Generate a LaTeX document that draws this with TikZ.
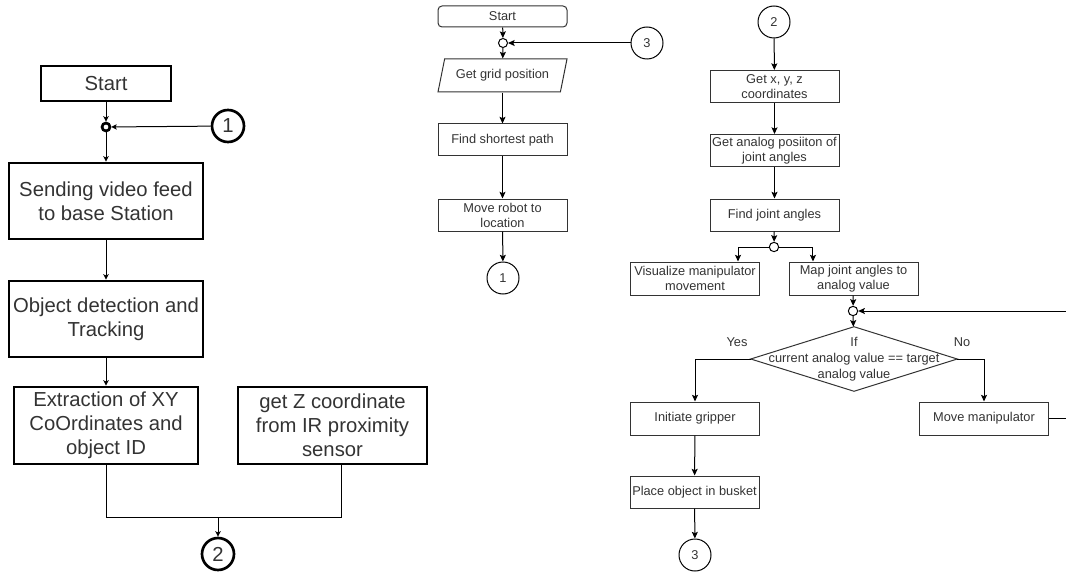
\documentclass[tikz,border=0pt]{standalone}
\usepackage{fontspec}
\setmainfont{Liberation Sans}
\usepackage{tikz}
\usetikzlibrary{arrows}
\usetikzlibrary{arrows.meta}
\usetikzlibrary{shapes}

\begin{document}
\begin{tikzpicture}[>={Stealth[length=5pt, width=4.5pt, inset=1pt]}, x=0.75pt, y=-0.75pt]
    \tikzstyle{bigbox} = [draw, line width=2pt, rectangle, align=center,
	inner sep=1pt, text=black!80, font=\fontsize{15.2}{18}\selectfont]
    \tikzstyle{smallbox} = [draw=black!80, line width=0.75pt, rectangle,
	align=center, inner sep=1pt, minimum width=96.75pt, minimum height=24pt,
	text=black!80, font=\fontsize{9.6}{11.25}\selectfont]
    \tikzstyle{bigcon} = [draw, line width=2pt, circle, minimum size=24pt,
	inner sep=0pt, text=black!80, font=\fontsize{15.2}{18}\selectfont]
    \tikzstyle{smallcon} = [draw, line width=0.75pt, circle, minimum size=24pt,
	inner sep=0pt, text=black!80, font=\fontsize{9.6}{11.25}\selectfont]
    \tikzstyle{dot} = [draw, circle, fill=white, inner sep=0pt]
    \tikzstyle{link} = [line width=0.75pt]
    \tikzstyle{answer} = [text=black!80, font=\fontsize{9.6}{11.25}\selectfont]

    \useasboundingbox (0,0) rectangle (1066,574);

	% video side
	\begin{scope}[>={Stealth[length=4pt, width=4pt, inset=0.8pt]}]
		\node[bigbox, minimum width=97.5pt, minimum height=26.25pt] (start) at (106,83.5) {Start};
		\node[dot, line width=2pt, minimum size=6pt] (j1) at (106,127) {};
		\node[bigcon] (one) at (228,126) {1};
		\node[bigbox, minimum width=145.5pt, minimum height=57pt] (send) at (106,201)
			{Sending video feed\\to base Station};
		\node[bigbox, minimum width=145.5pt, minimum height=57pt] (objdet) at (106,319)
			{Object detection and\\Tracking};
		\node[bigbox, minimum width=138pt, minimum height=57.75pt] (extract) at (106,425.5)
			{Extraction of XY\\CoOrdinates and\\object ID};
		\node[bigbox, minimum width=141.75pt, minimum height=57.75pt] (getz) at (332.5,425.5)
			{get Z coordinate\\from IR proximity\\sensor};
		\node[bigcon] (two) at (218,554) {2};
		\coordinate (merge) at (218,517);
		\coordinate (zout) at ([xshift=6.4pt]getz.south);

		\path[->, link]
			(start) edge (j1)
			(one) edge (j1)
			(j1) edge (send)
			(send) edge (objdet)
			(objdet) edge (extract)
			(merge) edge (two)
		;
		\draw[link] (extract.south) -- (extract.south |- merge) -- (zout |- merge) -- (zout);
	\end{scope}

	% navigation
	\begin{scope}
		\node[smallbox, rounded corners=3pt, minimum height=15.75pt] (start2) at (502.5,16.5) {Start};
		\node[dot, link, minimum size=6.75pt] (j2) at (503,43) {};
		\node[smallcon] (three) at (647,43) {3};
		\node[smallbox, trapezium, trapezium left angle=65.6, trapezium right angle=114.4,
			trapezium stretches body, minimum height=24.75pt] (grid) at (502.5,75.5) {Get grid position};
		\node[smallbox] (shortest) at (502.5,140) {Find shortest path};
		\node[smallbox] (moverobot) at (502.5,215) {Move robot to\\location};
		\node[smallcon] (onebot) at (503,278) {1};

		\path[->, link]
			(start2) edge (j2)
			(three) edge (j2)
			(j2) edge (grid)
			(grid) edge (shortest)
			(shortest) edge (moverobot)
			(moverobot) edge (onebot)
		;
	\end{scope}

	% manipulator
	\begin{scope}
		\node[smallcon] (twotop) at (774,22) {2};
		\node[smallbox] (xyz) at (774.5,86.5) {Get x, y, z\\coordinates};
		\node[smallbox] (analog) at (774.5,150.5) {Get analog posiiton of\\joint angles};
		\node[smallbox] (findj) at (774.5,215) {Find joint angles};
		\node[dot, link, minimum size=7pt] (j3) at (774,247) {};
		\node[smallbox, minimum height=24.75pt] (vis) at (695,278.5) {Visualize manipulator\\movement};
		\node[smallbox, minimum height=24.75pt] (map) at (853.5,278.5) {Map joint angles to\\analog value};
		\node[dot, link, minimum size=7pt] (j4) at (853,311) {};
		\node[answer, align=center, inner sep=0pt, minimum width=154.5pt, minimum height=48pt,
			font=\fontsize{9.6}{12}\selectfont] (dec) at (854,359)
			{If\\current analog value == target\\analog value};
		\node[answer] (yes) at (737,342) {Yes};
		\node[answer] (no) at (962,342) {No};
		\node[smallbox, minimum height=24.75pt] (init) at (695,418.5) {Initiate gripper};
		\node[smallbox, minimum height=24.75pt] (movem) at (984,418.5) {Move manipulator};
		\node[smallbox] (place) at (694.5,492) {Place object in busket};
		\node[smallcon] (threebot) at (695,555) {3};
		\coordinate (back) at (1080,418.5);

		\draw[draw=black!80, link] (dec.north) -- (dec.east) -- (dec.south) -- (dec.west) -- cycle;

		\path[->, link]
			(twotop) edge (xyz)
			(xyz) edge (analog)
			(analog) edge (findj)
			(findj) edge (j3)
			(map) edge (j4)
			(j4) edge (dec)
			(init) edge (place)
			(place) edge (threebot)
		;
		\draw[->, link] (j3) -| ([xshift=32.25pt]vis.north);
		\draw[->, link] (j3) -| ([xshift=-30.4pt]map.north);
		\draw[->, link] (dec.west) -| (init);
		\draw[->, link] (dec.east) -| (movem);
		\draw[->, link] (movem) -- (back) |- (j4);
	\end{scope}
\end{tikzpicture}
\end{document}
